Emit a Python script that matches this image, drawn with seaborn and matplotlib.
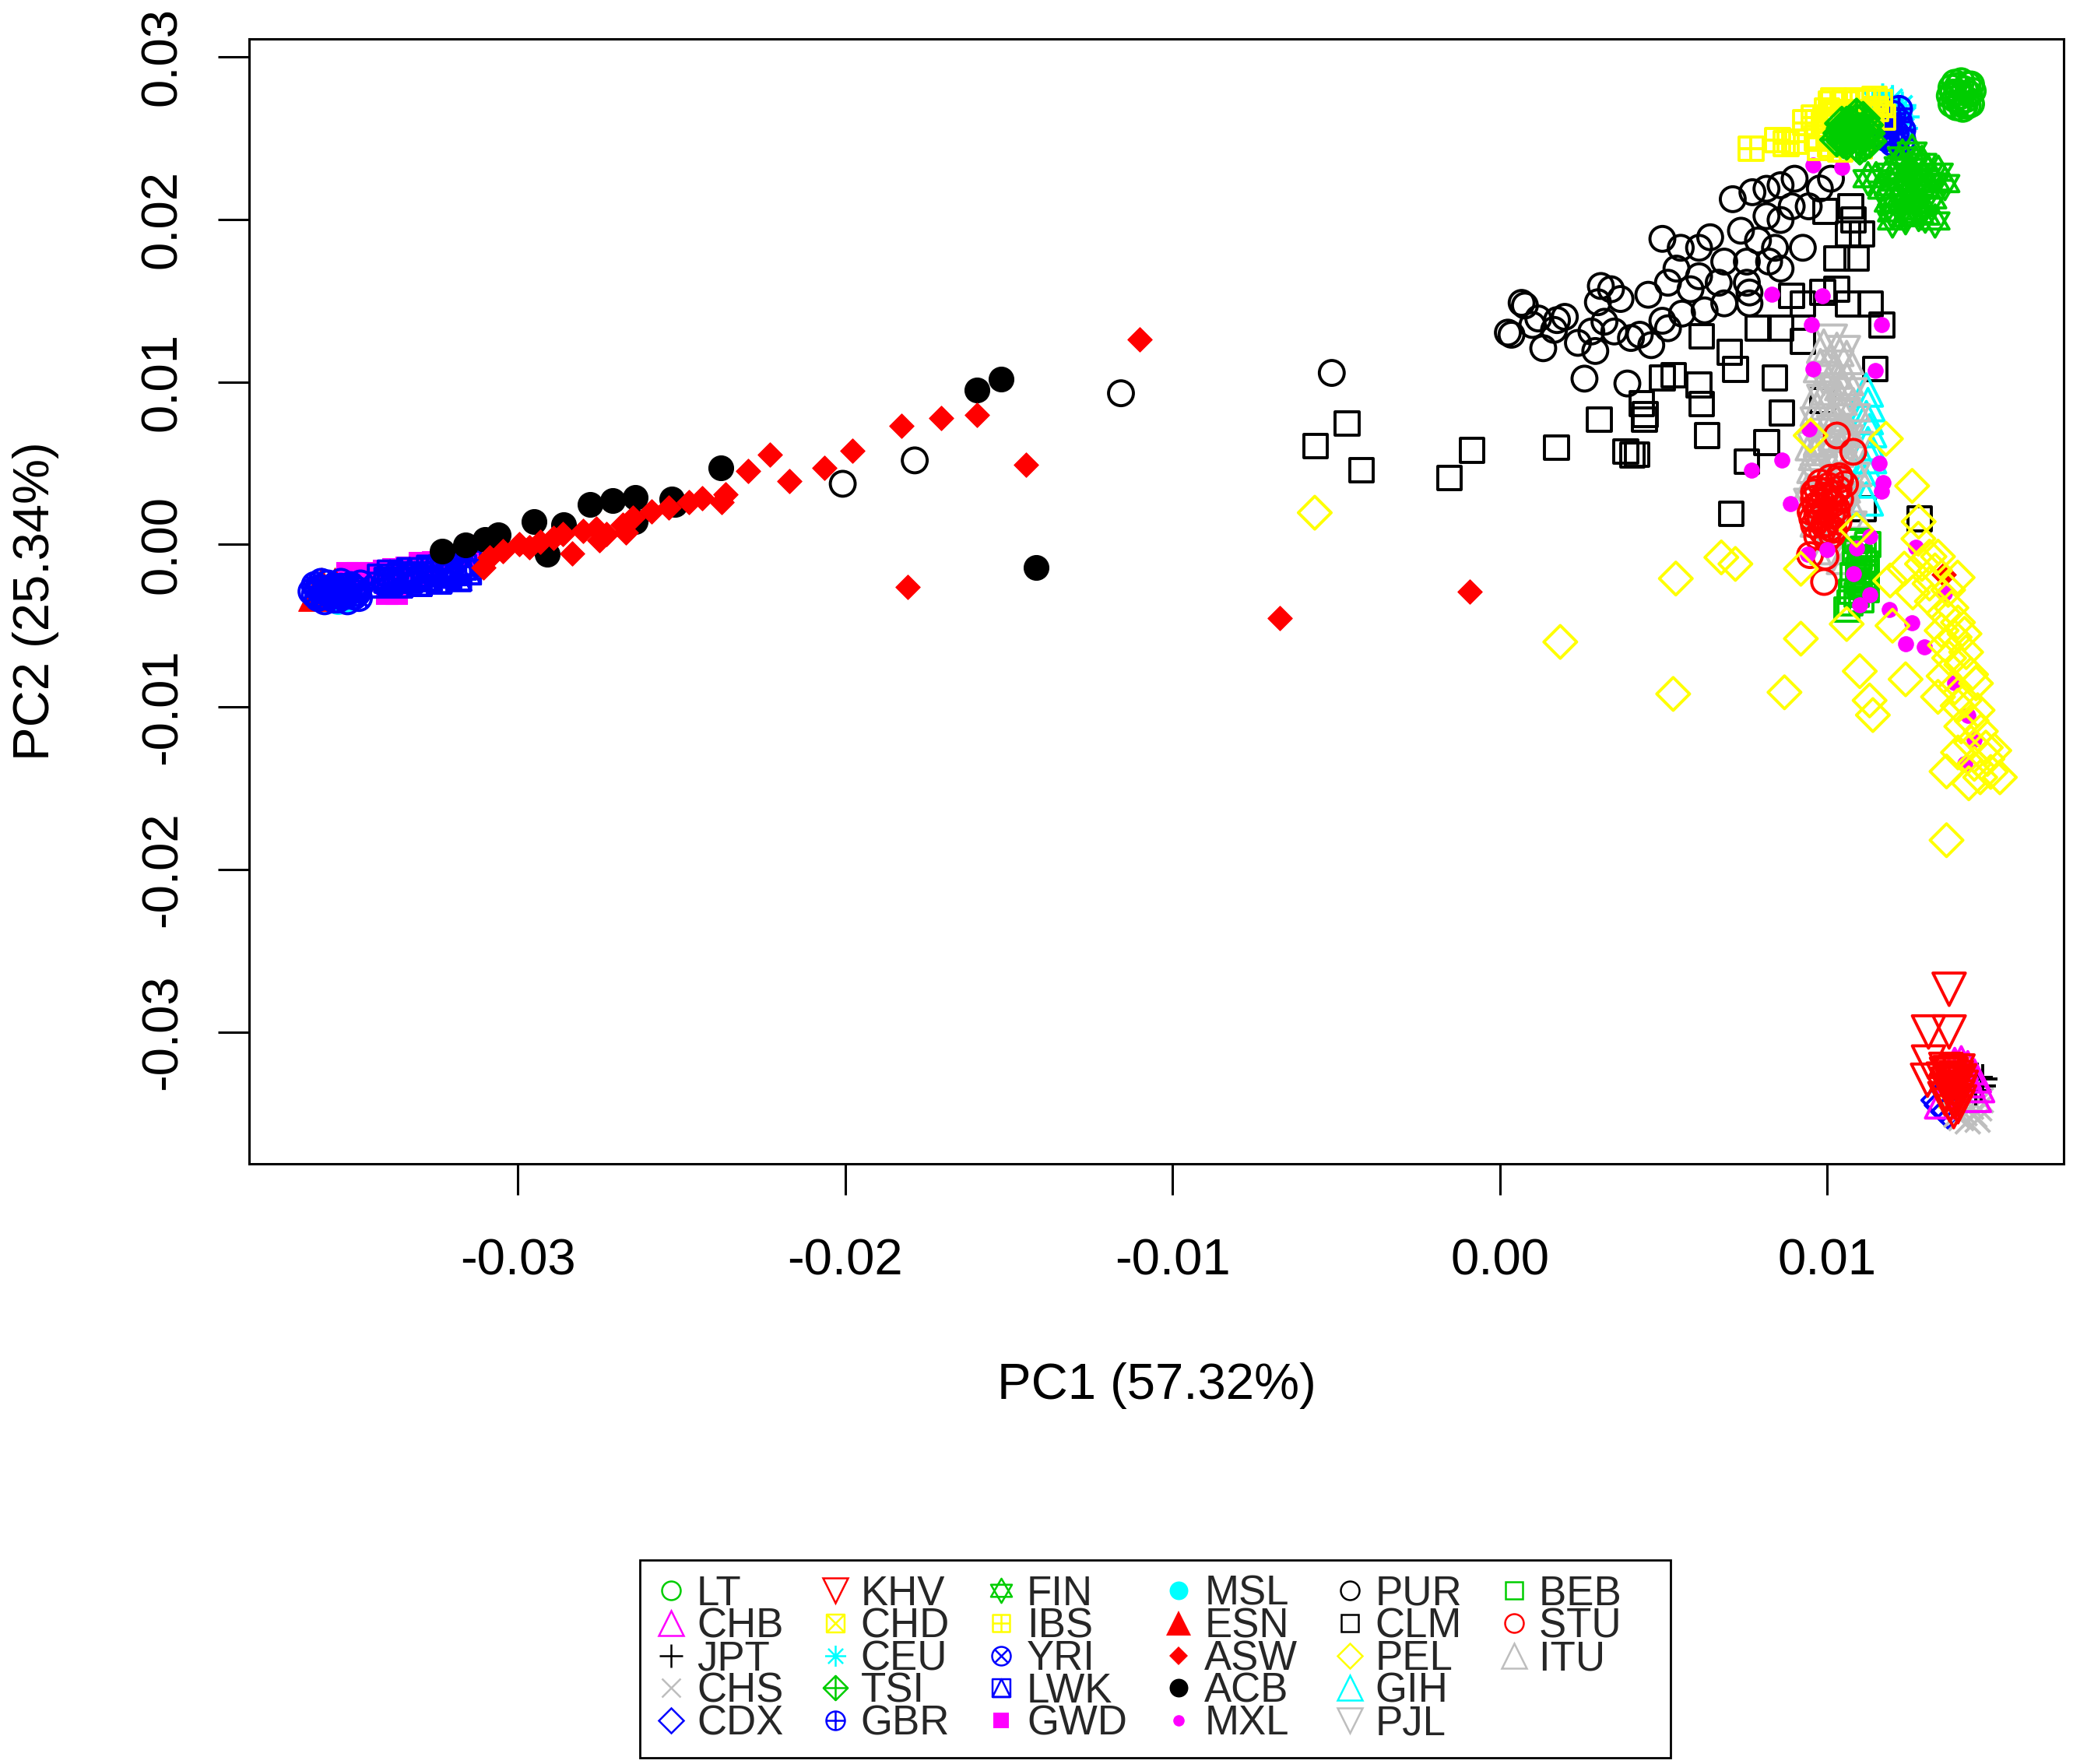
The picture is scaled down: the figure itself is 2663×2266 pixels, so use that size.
import numpy as np
import pandas as pd
import matplotlib
matplotlib.use("Agg")
import matplotlib.pyplot as plt
import seaborn as sns
from matplotlib.path import Path
from matplotlib.markers import MarkerStyle
from matplotlib.lines import Line2D

sns.set_theme(style="ticks")
plt.rcParams["font.family"] = ["Liberation Sans", "DejaVu Sans"]
plt.rcParams["axes.unicode_minus"] = False

# ---------------- data (PC values given in thousandths) ----------------
SCALE = 1e-3

POPS = ["LT", "CHB", "JPT", "CHS", "CDX", "KHV", "CHD", "CEU", "TSI", "GBR",
        "FIN", "IBS", "YRI", "LWK", "GWD", "MSL", "ESN", "ASW", "ACB", "MXL",
        "PUR", "CLM", "PEL", "GIH", "PJL", "BEB", "STU", "ITU"]
PCH = [1, 2, 3, 4, 5, 6, 7, 8, 9, 10, 11, 12, 13, 14, 15, 16, 17, 18, 19, 20,
       21, 22, 23, 24, 25, 0, 1, 2]
COLS = ["green", "magenta", "black", "gray", "blue", "red", "yellow", "cyan",
        "green", "blue", "green", "yellow", "blue", "blue", "magenta", "cyan",
        "red", "red", "black", "magenta", "black", "black", "yellow", "cyan",
        "gray", "green", "red", "gray"]

LT_x = [13.75, 13.8, 13.8, 13.9, 13.9, 13.95, 14.0, 14.05, 14.1, 14.1, 14.2, 14.2, 14.25, 14.3, 14.35, 14.4, 14.45, 14.4, 14.0, 14.15, 14.3, 13.85]
LT_y = [27.6, 27.1, 28.1, 27.4, 28.4, 26.9, 27.8, 27.2, 28.5, 27.6, 27.0, 28.0, 27.4, 28.3, 27.7, 27.1, 27.9, 28.3, 28.2, 26.8, 27.0, 27.8]

CHB_x = [13.9, 14.1, 14.3, 14.5, 14.6, 14.5, 14.3, 13.5, 14.2]
CHB_y = [-32.0, -31.9, -32.2, -32.7, -33.3, -33.9, -33.0, -34.3, -32.5]

JPT_x = [14.6, 14.7, 14.55, 14.75]
JPT_y = [-32.8, -33.3, -33.6, -32.9]

CHS_x = [14.1, 14.3, 14.5, 14.65, 14.7, 14.4, 14.2, 13.95, 14.6]
CHS_y = [-35.3, -35.5, -35.1, -34.7, -34.2, -34.6, -35.0, -35.1, -35.4]

CDX_x = [13.4, 13.5, 13.7]
CDX_y = [-34.2, -34.5, -34.9]

KHV_x = [13.73, 13.10, 13.73, 13.10, 13.07, 13.63, 13.8, 14.0, 13.7, 13.9, 14.05, 13.6, 13.85, 14.0, 13.87, 13.75, 13.55, 14.06,
         13.65, 13.95, 13.8, 14.1, 13.7, 13.9, 13.6, 14.0, 13.8, 13.95, 13.75, 14.05]
KHV_y = [-27.37, -30.0, -30.0, -31.85, -32.97, -32.3, -32.6, -32.4, -33.2, -33.5, -33.0, -33.8, -34.2, -34.0, -34.9, -34.5, -32.9, -33.7,
         -32.6, -32.8, -33.0, -33.4, -33.6, -34.3, -34.1, -34.6, -33.9, -33.1, -32.5, -34.3]

CHD_x = [13.9, 14.0, 13.8]
CHD_y = [-33.2, -33.6, -33.9]

CEU_x = [11.4, 11.7, 12.0, 12.3, 12.4, 12.35, 11.6, 12.1, 11.9]
CEU_y = [27.3, 27.5, 27.4, 27.0, 26.3, 25.6, 26.8, 26.6, 27.0]

TSI_x = [10.4, 10.6, 10.6, 10.8, 10.9, 10.9, 11.1, 11.2, 11.3, 10.5, 11.0, 10.7, 11.1, 10.3, 10.8, 11.0, 10.5, 11.2,
         10.5, 10.7, 11.0, 11.25, 10.45, 10.9, 10.6, 11.15]
TSI_y = [25.3, 25.9, 24.7, 25.4, 26.1, 24.6, 25.1, 25.8, 24.8, 25.6, 25.5, 25.0, 26.2, 24.9, 25.8, 24.9, 25.0, 25.4,
         24.8, 26.0, 24.4, 25.3, 25.9, 26.4, 25.3, 24.6]

GBR_x = [11.8, 11.9, 12.0, 12.1, 12.2, 12.3, 12.0, 12.2, 11.9, 12.3, 12.1]
GBR_y = [25.0, 25.8, 26.5, 25.3, 26.0, 25.5, 24.7, 26.8, 26.2, 24.9, 24.6]

FIN_x = [11.5, 11.7, 11.9, 12.0, 12.1, 12.2, 12.3, 12.4, 12.5, 12.5, 12.6, 12.7, 12.8, 12.9, 13.0, 13.1, 13.2, 13.3, 12.8, 12.3, 12.6, 13.4, 12.0, 12.4, 13.0, 11.9, 11.25, 13.6, 12.0, 13.3,
         12.2, 12.7, 12.5, 12.9, 12.4, 12.7]
FIN_y = [22.5, 21.8, 22.9, 21.3, 22.3, 23.3, 21.0, 22.0, 22.8, 20.5, 21.6, 23.5, 22.2, 20.9, 21.8, 22.9, 21.2, 22.3, 20.3, 23.9, 24.2, 22.9, 20.4, 20.1, 20.2, 21.0, 22.5, 22.2, 19.9, 19.9,
         22.0, 21.0, 23.2, 23.5, 21.3, 22.6]

IBS_x = [7.68, 8.49, 8.75, 9.01, 9.35, 9.61, 10.12, 9.7, 9.9, 10.1, 10.3, 10.5, 10.6, 10.8, 11.0, 11.1, 11.3, 11.5, 11.7, 10.4, 11.6, 9.8, 10.9,
         10.0, 10.2, 10.7, 11.2, 11.45, 10.35, 9.95]
IBS_y = [24.34, 24.88, 24.66, 24.77, 25.95, 26.27, 27.12, 25.0, 25.8, 24.6, 26.5, 25.2, 27.1, 26.0, 24.5, 27.2, 25.7, 26.8, 26.3, 24.3, 27.2, 24.4, 27.3,
         26.7, 27.3, 26.6, 26.4, 27.4, 25.9, 26.1]

YRI_x = [-36.3, -36.2, -36.1, -36.0, -35.9, -35.8, -35.7, -35.6, -35.5, -35.4, -35.3, -35.2, -35.1, -35.0, -34.9, -34.8,
         -36.2, -36.0, -35.8, -35.6, -35.4, -35.2, -35.0, -34.85, -36.1, -35.7, -35.3, -34.9, -35.5, -35.9]
YRI_y = [-2.9, -2.5, -3.3, -2.7, -3.5, -2.4, -3.1, -2.6, -3.4, -2.3, -2.9, -3.5, -2.5, -3.2, -2.8, -2.4,
         -3.1, -2.3, -3.0, -3.4, -2.6, -3.0, -2.7, -3.3, -2.7, -2.8, -3.2, -3.0, -2.9, -3.2]

LWK_x = [-34.2, -34.2, -33.9, -33.9, -33.6, -33.6, -33.3, -33.3, -33.0, -33.0, -32.7, -32.7, -32.4, -32.4, -32.1, -32.1,
         -31.8, -31.8, -31.5, -31.5, -34.0, -33.45, -32.85, -32.25, -31.65, -33.75, -33.15, -32.55, -31.95]
LWK_y = [-2.0, -2.5, -1.75, -2.3, -2.0, -2.5, -1.6, -2.2, -1.9, -2.4, -1.45, -2.1, -1.8, -2.25, -1.3, -1.9,
         -1.6, -2.1, -1.15, -1.7, -2.2, -1.9, -2.1, -1.6, -1.4, -2.2, -1.85, -1.6, -1.75]

GWD_x = [-35.2, -34.9, -34.5, -34.1, -33.8, -33.4, -33.0, -32.6, -32.2, -31.5, -31.5, -34.0, -33.7, -32.8, -34.5]
GWD_y = [-1.75, -1.75, -1.75, -1.6, -1.5, -1.4, -1.15, -1.1, -1.1, -0.1, -0.6, -3.0, -3.0, -1.8, -2.2]

MSL_x = [-35.5, -35.3, -36.0]
MSL_y = [-3.55, -3.5, -3.3]

ESN_x = [-36.0, -35.6, -36.2]
ESN_y = [-2.45, -2.45, -3.1]

ASW_x = [-30.85, -30.45, -29.96, -29.64, -29.31, -28.91, -28.62, -28.34, -28.01, -27.61, -27.28, -26.8, -26.47, -25.91, -25.38, -24.77, -24.37, -23.76, -23.64, -22.95, -21.7, -22.3, -20.62, -19.78, -18.28, -17.06, -15.98, -14.48, -10.99, -18.08, -6.71, -0.92, 13.56, -31.05, -27.5, -26.7]
ASW_y = [-0.82, -0.41, 0.0, -0.16, 0.16, 0.41, 0.65, -0.57, 0.82, 0.98, 0.65, 1.22, 1.63, 2.04, 2.29, 2.61, 2.86, 2.61, 3.1, 4.5, 3.9, 5.5, 4.72, 5.76, 7.28, 7.79, 7.99, 4.88, 12.59, -2.6, -4.55, -2.92, -1.86, -1.4, 0.25, 0.73]

ACB_x = [-32.3, -31.6, -31.0, -30.6, -29.5, -28.6, -27.8, -27.1, -26.4, -25.3, -23.8, -29.1, -26.4, -25.2, -15.98, -15.24, -14.16]
ACB_y = [-0.4, -0.05, 0.3, 0.6, 1.4, 1.2, 2.45, 2.7, 2.9, 2.8, 4.7, -0.6, 1.4, 2.45, 9.51, 10.15, -1.43]

MXL_x = [9.57, 10.46, 8.31, 9.85, 9.53, 11.67, 9.57, 11.47, 8.63, 7.7, 11.6, 11.67, 11.7, 8.88, 9.45, 11.3, 10.9, 10.8, 11.3, 11.0, 11.9, 12.6, 12.4, 12.97, 14.2, 12.7, 10.0, 9.4, 13.6, 13.9, 14.3, 14.5]
MXL_y = [23.35, 23.2, 15.4, 15.3, 13.5, 13.5, 10.8, 10.7, 5.2, 4.57, 4.98, 3.27, 3.8, 2.53, 7.1, 0.5, -0.24, -1.8, -3.1, -3.7, -4.0, -4.8, -6.1, -6.3, -13.5, -0.2, -0.3, -0.6, -3.0, -8.5, -10.5, -12.0]

PUR_x = [-20.07, -17.87, -11.57, -5.13, 0.36, 0.77, 1.18, 1.66, 1.99, 2.39, 2.80, 3.00, 3.20, 3.40, 3.69, 4.01, 2.59, 3.9,
         0.67, 0.25, 1.0, 1.75, 1.33, 2.92, 3.5, 3.09,
         4.97, 5.53, 6.09, 6.43, 7.12, 7.72, 8.15, 8.58, 9.01, 9.44, 9.78, 10.12, 8.58, 7.37, 7.89, 9.26, 8.41, 6.86, 7.55,
         5.4, 6.09, 4.54, 5.14, 6.69, 7.55, 8.23, 8.58, 7.63, 6.86, 6.26, 5.57, 4.97, 5.83, 4.63, 4.28, 5.14, 7.63, 8.92, 8.15]
PUR_y = [3.73, 5.17, 9.30, 10.55, 12.9, 14.7, 13.9, 13.2, 14.0, 12.4, 13.1, 14.9, 13.7, 15.7, 15.1, 12.7, 10.2, 9.9,
         14.86, 13.03, 13.5, 13.8, 12.07, 11.9, 13.1, 15.9,
         18.8, 18.25, 18.25, 18.9, 21.24, 21.67, 21.88, 22.1, 22.5, 20.8, 21.9, 22.5, 19.96, 19.3, 18.7, 18.25, 18.25, 17.4, 17.4,
         16.97, 16.5, 15.36, 16.1, 16.1, 16.1, 17.4, 16.97, 14.83, 14.83, 14.4, 14.2, 13.76, 15.7, 12.26, 12.9, 13.3, 15.5, 20.8, 20.2]

CLM_x = [-5.63, -4.66, -4.22, -1.54, -0.85, 1.74, 3.04, 3.85, 4.05, 4.42, 4.34, 4.20, 4.45, 4.97, 6.09, 6.17, 7.20, 7.03,
         8.41, 8.62, 6.34, 8.15, 7.55, 7.07, 6.17, 9.95, 10.72, 10.81, 10.64, 11.07, 10.3, 10.9, 8.92, 9.26, 9.87, 10.3,
         10.64, 11.33, 11.67, 8.58, 7.89, 9.26, 9.87, 12.83, 11.1, 11.47, 5.31]
CLM_y = [6.04, 7.43, 4.57, 4.08, 5.80, 5.96, 7.67, 5.71, 5.5, 7.67, 8.65, 5.52, 7.98, 10.23, 9.80, 8.63, 10.76, 11.83,
         10.23, 8.09, 6.70, 6.27, 5.10, 1.89, 12.8, 20.5, 20.8, 19.96, 19.1, 19.1, 17.6, 17.6, 15.3, 14.8, 15.5, 15.7,
         14.8, 14.8, 13.5, 13.3, 13.3, 12.5, 8.84, 1.57, 2.2, 10.8, 10.4]

PEL_x = [-5.65, 1.85, 5.38, 6.77, 7.2, 9.2, 5.3, 8.7, 9.2, 10.6, 11.0, 11.3, 11.4, 12.4, 12.0, 11.8, 12.6, 9.5, 10.9, 12.8,
         12.79, 13.39, 13.99, 13.13, 13.56, 13.90, 13.73, 13.56, 14.55, 13.39, 13.99, 14.42, 15.11, 14.68, 15.28, 14.33,
         13.65, 11.93, 12.36, 12.62, 13.65, 13.13, 14.25, 14.85,
         12.9, 13.3, 13.7, 13.2, 13.8, 14.0, 13.5, 14.2, 13.6, 14.1, 14.4, 13.9, 14.2, 14.6, 14.1, 14.7, 14.4, 14.9, 14.5, 15.0, 14.0]
PEL_y = [1.95, -6.0, -2.1, -0.8, -1.2, -1.5, -9.2, -9.1, -5.8, -4.9, -7.8, -9.6, -10.5, -8.3, -5.0, 6.5, 3.6, 6.7, 0.9, 1.4,
         0.35, -0.75, -2.04, -2.41, -4.24, -5.71, -6.99, -8.1, -8.55, -9.38, -9.93, -10.85, -12.68, -14.33, -14.33, -14.7,
         -13.97, -2.22, -1.49, -2.96, -18.2, -0.75, -6.63, -12.5,
         -1.2, -1.6, -2.8, -3.5, -3.9, -4.8, -5.3, -5.5, -6.2, -7.4, -8.0, -8.8, -9.6, -10.2, -11.2, -11.5, -12.2, -13.2, -13.5, -14.0, -12.8]

GIH_x = [11.2, 11.25, 11.2, 11.3, 11.25, 11.3, 11.2, 11.15, 11.2]
GIH_y = [9.5, 8.6, 7.8, 7.0, 6.2, 5.4, 4.7, 3.9, 2.8]

PJL_x = [10.1, 10.5, 9.9, 10.3, 10.7, 9.9, 10.5, 10.2, 10.6, 9.9, 10.4, 10.8, 9.7, 10.1, 10.6, 9.5, 10.4, 9.9, 10.7, 10.2,
         10.3, 9.7, 10.0, 10.8, 9.6, 10.5, 10.9, 9.8]
PJL_y = [12.5, 11.8, 10.2, 9.5, 9.2, 8.8, 8.0, 6.9, 6.3, 5.6, 4.7, 4.0, 3.9, 3.0, 2.8, 2.4, 1.6, 0.6, 1.0, -0.6,
         10.9, 7.4, 6.0, 7.6, 5.9, 5.3, 5.9, 4.4]

BEB_x = [10.9, 11.1, 11.0, 11.2, 10.95, 11.15, 11.0, 11.2, 10.9, 10.7, 10.6, 11.05, 11.1, 10.85, 11.25, 10.8, 11.1, 10.95, 11.2, 10.75]
BEB_y = [0.2, -0.3, -0.8, -1.2, -1.6, -2.0, -2.4, -2.8, -3.1, -3.6, -4.0, -3.4, -1.0, -0.5, 0.0, -1.9, -2.6, -2.2, -1.7, -2.9]

STU_x = [9.5, 9.6, 9.6, 9.7, 9.75, 9.8, 9.85, 9.9, 9.95, 10.0, 10.05, 10.1, 10.15, 10.2, 10.25, 10.3, 10.35, 10.4, 9.7, 10.0,
         10.1, 10.4, 10.3, 10.8, 9.95, 9.48, 9.91, 10.38, 10.55,
         9.55, 9.65, 9.8, 9.9, 10.05, 10.15, 10.3, 9.7, 9.85, 10.0, 10.2, 10.35, 9.6, 10.1]
STU_y = [2.0, 2.8, 1.2, 3.4, 2.3, 1.6, 0.8, 3.0, 2.1, 1.3, 3.6, 2.6, 1.8, 0.9, 3.1, 2.2, 1.4, 2.8, 0.5, 0.3,
         4.1, 4.0, 6.7, 5.7, -0.75, -0.66, -2.31, 4.2, 3.7,
         1.6, 2.4, 3.8, 1.2, 2.9, 0.6, 1.8, 1.8, 2.6, 3.3, 2.5, 3.4, 3.2, 1.0]

ITU_x = [9.9, 10.3, 10.6, 9.8, 10.2, 10.6, 10.0, 10.4, 10.8, 9.7, 10.1, 10.5, 9.8, 10.3, 10.7, 9.6, 10.0, 10.5, 9.4, 10.2, 10.8, 9.7, 10.3, 10.0, 10.5,
         10.1, 10.45, 9.75, 10.65, 9.55, 10.25, 10.85, 9.65, 10.0]
ITU_y = [12.2, 12.0, 11.5, 11.0, 10.6, 10.2, 9.6, 9.0, 8.6, 8.3, 7.8, 7.2, 6.5, 5.8, 5.2, 4.8, 4.2, 3.6, 3.3, 2.5, 2.0, 1.5, 0.8, -0.2, -0.8,
         11.3, 9.9, 9.4, 7.0, 6.2, 6.8, 4.6, 5.6, 8.7]

XTICKS = [-0.03, -0.02, -0.01, 0.00, 0.01]
XTICKLABELS = ["-0.03", "-0.02", "-0.01", "0.00", "0.01"]
YTICKS = [-0.03, -0.02, -0.01, 0.00, 0.01, 0.02, 0.03]
YTICKLABELS = ["-0.03", "-0.02", "-0.01", "0.00", "0.01", "0.02", "0.03"]
XLABEL = "PC1 (57.32%)"
YLABEL = "PC2 (25.34%)"

# ---------------- assemble ----------------
g = globals()
frames = []
for p in POPS:
    frames.append(pd.DataFrame({"PC1": np.array(g[p + "_x"]) * SCALE,
                                "PC2": np.array(g[p + "_y"]) * SCALE,
                                "pop": p}))
df = pd.concat(frames, ignore_index=True)

# ---------------- styles ----------------
RCOL = {"black": "#000000", "red": "#FF0000", "green": "#00CD00", "blue": "#0000FF",
        "cyan": "#00FFFF", "magenta": "#FF00FF", "yellow": "#FFFF00", "gray": "#BEBEBE"}


def _compound(polys=(), segs=(), circle=False):
    paths = []
    if circle:
        paths.append(Path.unit_circle())
    for poly in polys:
        v = list(poly) + [poly[0]]
        c = [Path.MOVETO] + [Path.LINETO] * (len(poly) - 1) + [Path.CLOSEPOLY]
        paths.append(Path(v, c))
    for a, b in segs:
        paths.append(Path([a, b], [Path.MOVETO, Path.LINETO]))
    return Path.make_compound_path(*paths)


SQ = [(-1, -1), (1, -1), (1, 1), (-1, 1)]
DIA = [(0, 1), (1, 0), (0, -1), (-1, 0)]
r = 0.7071
SQX = _compound([SQ], [((-1, -1), (1, 1)), ((-1, 1), (1, -1))])
AST = _compound([], [((-1, 0), (1, 0)), ((0, -1), (0, 1)), ((-r, -r), (r, r)), ((-r, r), (r, -r))])
DPL = _compound([DIA], [((-1, 0), (1, 0)), ((0, -1), (0, 1))])
CPL = _compound([], [((-1, 0), (1, 0)), ((0, -1), (0, 1))], circle=True)
STAR = _compound([[(0, 1), (-0.866, -0.5), (0.866, -0.5)], [(0, -1), (-0.866, 0.5), (0.866, 0.5)]])
SQP = _compound([SQ], [((-1, 0), (1, 0)), ((0, -1), (0, 1))])
CX = _compound([], [((-r, -r), (r, r)), ((-r, r), (r, -r))], circle=True)
SQT = _compound([SQ, [(-1, -1), (0, 1), (1, -1)]])

# pch -> (marker, filled, markersize in pt)
MARK = {0: ("s", False, 22), 1: ("o", False, 23), 2: ("^", False, 30), 3: ("+", False, 28),
        4: ("x", False, 23), 5: ("D", False, 21.5), 6: ("v", False, 30), 7: (SQX, False, 22),
        8: (AST, False, 26), 9: (DPL, False, 30), 10: (CPL, False, 23), 11: (STAR, False, 30),
        12: (SQP, False, 22), 13: (CX, False, 23), 14: (SQT, False, 22), 15: ("s", True, 20),
        16: ("o", True, 23), 17: ("^", True, 30), 18: ("D", True, 16), 19: ("o", True, 23),
        20: ("o", True, 14), 21: ("o", False, 23), 22: ("s", False, 22), 23: ("D", False, 21.5),
        24: ("^", False, 30), 25: ("v", False, 30)}
LW = 2.8

DRAW_ORDER = ["GWD", "MSL", "ESN", "YRI", "LWK", "ACB", "ASW", "PUR", "CLM",
              "GIH", "PJL", "ITU", "BEB", "STU", "MXL", "PEL",
              "CEU", "GBR", "IBS", "TSI", "FIN", "LT",
              "CHD", "CDX", "CHS", "JPT", "CHB", "KHV"]

# ---------------- figure ----------------
fig = plt.figure(figsize=(26.63, 22.66), dpi=100)
ax = fig.add_axes([0.12017, 0.34025, 0.87533, 0.63768])
ax.set_facecolor("white")

for pop in DRAW_ORDER:
    i = POPS.index(pop)
    mk, filled, ms = MARK[PCH[i]]
    col = RCOL[COLS[i]]
    sub = df[df["pop"] == pop]
    if filled:
        sns.scatterplot(data=sub, x="PC1", y="PC2", ax=ax, legend=False,
                        marker=mk, s=ms ** 2, color=col, edgecolor=col, linewidth=0.8)
    else:
        sns.scatterplot(data=sub, x="PC1", y="PC2", ax=ax, legend=False,
                        marker=MarkerStyle(mk, fillstyle="none"), s=ms ** 2,
                        color=col, linewidth=LW)

ax.set_xlim(-0.038205, 0.017229)
ax.set_ylim(-0.03811, 0.0311)
ax.set_xticks(XTICKS, XTICKLABELS)
ax.set_yticks(YTICKS, YTICKLABELS)
ax.grid(False)
for sp in ax.spines.values():
    sp.set_visible(True)
    sp.set_color("black")
    sp.set_linewidth(2.2)
ax.tick_params(axis="both", direction="out", length=29, width=2.2, color="black",
               labelsize=47, labelcolor="black", top=False, right=False)
ax.tick_params(axis="x", pad=40)
ax.tick_params(axis="y", pad=29)
for t in ax.get_yticklabels():
    t.set_rotation(90)
    t.set_verticalalignment("center")

ax.set_xlabel(XLABEL, fontsize=47, color="black")
ax.set_ylabel(YLABEL, fontsize=47, color="black")
ax.xaxis.set_label_coords(0.5, -0.197)
ax.xaxis.label.set_verticalalignment("center")
ax.yaxis.set_label_coords(-0.1175, 0.5)
ax.yaxis.label.set_verticalalignment("center")

# ---------------- legend ----------------
handles, labels = [], []
for i, pop in enumerate(POPS):
    mk, filled, ms = MARK[PCH[i]]
    col = RCOL[COLS[i]]
    if filled:
        h = Line2D([], [], linestyle="None", marker=mk, markersize=ms * 0.75,
                   markerfacecolor=col, markeredgecolor=col, markeredgewidth=0)
    else:
        h = Line2D([], [], linestyle="None", marker=mk, fillstyle="none",
                   markersize=ms * 0.75, markeredgecolor=col, markeredgewidth=1.8)
    handles.append(h)
    # last legend column has extra trailing room in the reference box
    labels.append(pop + ("   " if i >= 25 else ""))
for _ in range(2):
    handles.append(Line2D([], [], linestyle="None", marker="None"))
    labels.append("")

leg = fig.legend(handles, labels, ncol=6, loc="center",
                 bbox_to_anchor=(1484 / 2663, 1 - 2131 / 2266),
                 fontsize=38, handlelength=0.8, handletextpad=0.22,
                 columnspacing=0.86, labelspacing=-0.16, borderpad=0.36,
                 frameon=True, fancybox=False, shadow=False, framealpha=1,
                 edgecolor="black", facecolor="white")
leg.get_frame().set_linewidth(2.0)

fig.savefig("out.png", dpi=100)
